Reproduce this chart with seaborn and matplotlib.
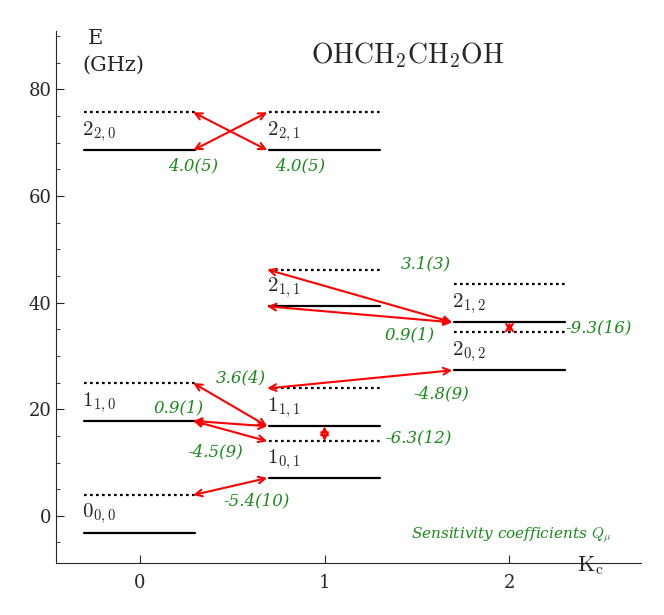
import matplotlib
matplotlib.use("Agg")
import matplotlib.pyplot as plt
import seaborn as sns
import pandas as pd

sns.set_style("ticks")
plt.rcParams["mathtext.fontset"] = "cm"
plt.rcParams["font.family"] = "DejaVu Serif"

# solid levels: label, Kc column, energy (GHz)
lev_labels = ["0_{0,0}", "1_{1,0}", "2_{2,0}", "1_{0,1}", "1_{1,1}", "2_{1,1}", "2_{2,1}", "2_{0,2}", "2_{1,2}"]
lev_k = [0, 0, 0, 1, 1, 1, 1, 2, 2]
lev_e = [-3.2, 17.8, 68.6, 7.1, 16.8, 39.3, 68.6, 27.3, 36.3]
# dotted (shifted) levels
dot_k = [0, 0, 0, 1, 1, 1, 1, 2, 2]
dot_e = [3.9, 24.9, 75.7, 14.0, 23.9, 46.2, 75.7, 34.4, 43.4]
# arrows: (x1, y1, x2, y2)
arr = [(0.29, 75.7, 0.69, 68.6), (0.29, 68.6, 0.69, 75.7),
       (0.29, 24.9, 0.69, 16.8), (0.29, 17.8, 0.69, 16.8), (0.29, 17.8, 0.69, 14.0),
       (0.29, 3.9, 0.69, 7.1), (1.0, 16.8, 1.0, 14.0),
       (0.69, 23.9, 1.69, 27.3), (1.69, 36.3, 0.69, 39.3), (1.69, 36.3, 0.69, 46.2),
       (2.0, 36.3, 2.0, 34.4)]
q_text = ["4.0(5)", "4.0(5)", "3.6(4)", "0.9(1)", "-4.5(9)", "-5.4(10)", "-6.3(12)",
          "-4.8(9)", "0.9(1)", "3.1(3)", "-9.3(16)"]
q_pos = [(0.29, 65.6, "center"), (0.87, 65.6, "center"), (0.55, 25.8, "center"),
         (0.21, 20.2, "center"), (0.41, 12.0, "center"), (0.63, 2.8, "center"),
         (1.33, 14.6, "left"), (1.63, 22.8, "center"), (1.46, 34.0, "center"),
         (1.55, 47.3, "center"), (2.30, 35.3, "left")]

fig, ax = plt.subplots(figsize=(6.64, 6.15), dpi=100)
fig.subplots_adjust(left=0.085, right=0.965, bottom=0.085, top=0.95)

w = 0.3
for k, e in zip(lev_k, lev_e):
    sns.lineplot(x=[k - w, k + w], y=[e, e], color="black", lw=1.6, ax=ax)
for k, e in zip(dot_k, dot_e):
    ax.plot([k - w, k + w], [e, e], color="black", lw=1.6, ls=(0, (1.2, 1.5)))
for x1, y1, x2, y2 in arr:
    ax.annotate("", xy=(x2, y2), xytext=(x1, y1),
                arrowprops=dict(arrowstyle="<->", color="red", lw=1.5,
                                mutation_scale=12, shrinkA=0, shrinkB=0))
for lab, k, e in zip(lev_labels, lev_k, lev_e):
    ax.text(k - 0.31, e + 1.2, "$\\mathrm{" + lab.split("_")[0] + "}_{" + lab.split("_")[1][1:-1] + "}$",
            fontsize=15, ha="left", va="bottom")
for t, (x, y, ha) in zip(q_text, q_pos):
    ax.text(x, y, t, color="#1a8a1a", style="italic", fontsize=12, ha=ha, va="center")

ax.text(2.55, -3.6, r"Sensitivity coefficients $Q_\mu$", color="#1a8a1a", style="italic",
        fontsize=11, ha="right", va="center")
ax.text(-0.28, 89.5, "E", fontsize=15, ha="left", va="center")
ax.text(-0.31, 84.5, "(GHz)", fontsize=15, ha="left", va="center")
ax.text(1.45, 86.5, r"$\mathrm{OHCH_2CH_2OH}$", fontsize=20, ha="center", va="center")
ax.text(2.44, -9.3, r"$\mathrm{K_c}$", fontsize=16, ha="center", va="center", clip_on=False)

ax.set_xlim(-0.45, 2.71)
ax.set_ylim(-8.8, 91)
ax.set_xticks([0, 1, 2])
ax.set_yticks([0, 20, 40, 60, 80])
ax.set_yticks(range(-5, 91, 5), minor=True)
ax.tick_params(labelsize=13, direction="in", length=6)
ax.tick_params(which="minor", direction="in", length=3)
ax.tick_params(axis="x", pad=8)
sns.despine(ax=ax)
ax.set_xlabel(""); ax.set_ylabel("")
fig.savefig("out.png", dpi=100)
